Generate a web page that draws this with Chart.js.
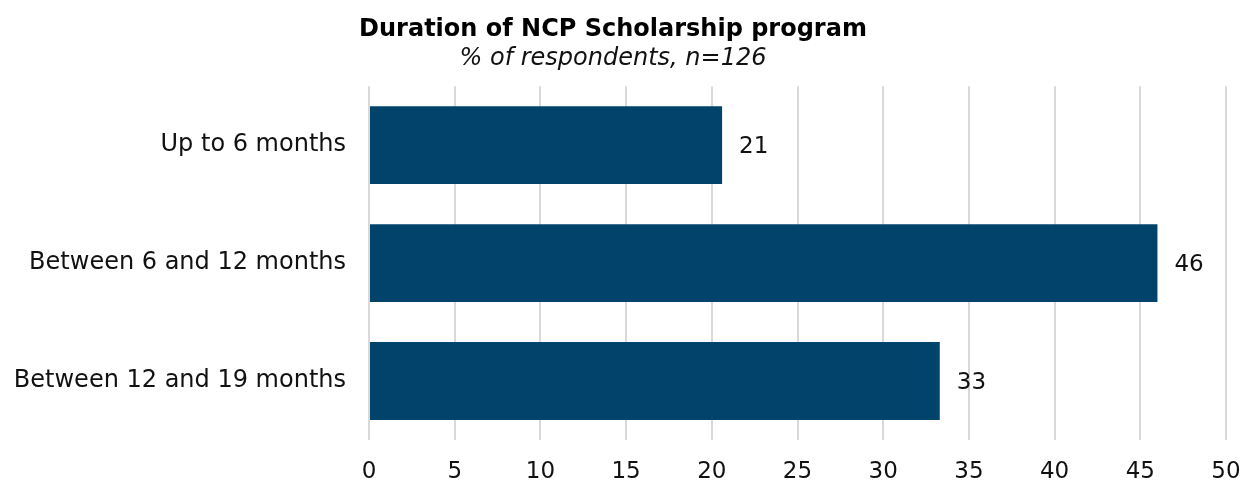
<!DOCTYPE html>
<html>
<head>
<meta charset="utf-8">
<script src="https://cdn.jsdelivr.net/npm/chart.js@4/dist/chart.umd.min.js"></script>
<style>
  html, body { margin: 0; padding: 0; background: #ffffff; }
  #wrap { width: 1256px; height: 482px; position: relative; }
</style>
</head>
<body>
<div id="wrap"><canvas id="c" width="1256" height="482"></canvas></div>
<script>
const categories = ["Up to 6 months", "Between 6 and 12 months", "Between 12 and 19 months"];
const values = [20.6, 46.0, 33.3];
const valueLabels = ["21", "46", "33"];
const titleText = "Duration of NCP Scholarship program";
const subtitleText = "% of respondents, n=126";
const xMin = 0, xMax = 50, xStep = 5;

const FONT = "'DejaVu Sans', Verdana, sans-serif";

const barLabels = {
  id: 'barLabels',
  afterDatasetsDraw(chart) {
    const ctx = chart.ctx;
    const meta = chart.getDatasetMeta(0);
    ctx.save();
    ctx.font = "23px " + FONT;
    ctx.fillStyle = "#111111";
    ctx.textAlign = "left";
    ctx.textBaseline = "middle";
    meta.data.forEach((bar, i) => {
      ctx.fillText(valueLabels[i], bar.x + 17, bar.y + 2);
    });
    ctx.restore();
  }
};

new Chart(document.getElementById('c'), {
  type: 'bar',
  data: {
    labels: categories,
    datasets: [{
      data: values,
      backgroundColor: '#02436b',
      borderWidth: 0,
      categoryPercentage: 0.66,
      barPercentage: 1.0
    }]
  },
  plugins: [barLabels],
  options: {
    indexAxis: 'y',
    responsive: false,
    animation: false,
    layout: { padding: { left: 0, right: 30, top: 0, bottom: 0 } },
    plugins: {
      legend: { display: false },
      tooltip: { enabled: false },
      title: {
        display: true,
        text: titleText,
        color: '#000000',
        font: { family: FONT, size: 24, weight: 'bold', lineHeight: 1.2 },
        padding: { top: 15, bottom: 0 }
      },
      subtitle: {
        display: true,
        text: subtitleText,
        color: '#111111',
        font: { family: FONT, size: 24, style: 'italic', lineHeight: 1.2 },
        padding: { top: 1, bottom: 12.6 }
      }
    },
    scales: {
      x: {
        min: xMin, max: xMax,
        ticks: { stepSize: xStep, color: '#111111', font: { family: FONT, size: 23 }, padding: 18 },
        grid: { color: '#d9d9d9', lineWidth: 2, drawTicks: false },
        border: { display: false },
        afterFit(scale) { scale.height = 42; scale.paddingRight = 0; scale.paddingLeft = 0; }
      },
      y: {
        ticks: { color: '#111111', font: { family: FONT, size: 24 }, padding: 23 },
        grid: { display: false, drawTicks: false },
        border: { display: false },
        afterFit(scale) { scale.width = 369; }
      }
    }
  }
});
</script>
</body>
</html>
